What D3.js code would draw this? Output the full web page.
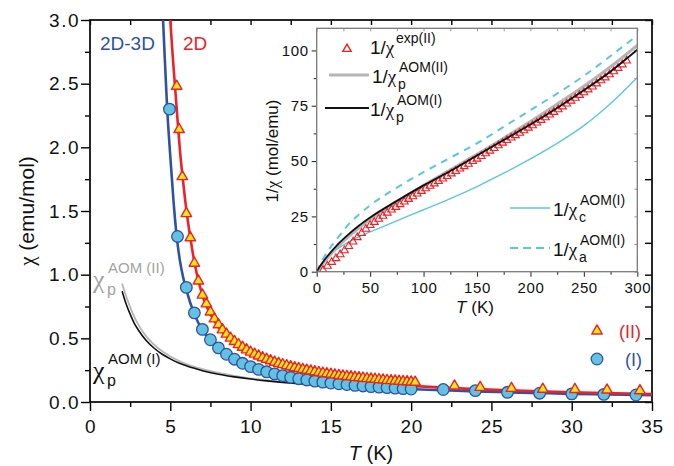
<!DOCTYPE html>
<html>
<head>
<meta charset="utf-8">
<script src="https://cdn.jsdelivr.net/npm/d3@7"></script>
<style>
  body { margin: 0; background: #fff; }
  svg { display: block; }
  text { font-family: "Liberation Sans", Arial, Helvetica, sans-serif; }
  .greek { font-family: "Liberation Serif", "DejaVu Serif", serif; }
</style>
</head>
<body>
<svg id="chart" width="674" height="466"></svg>
<script>
// ---------- main panel: susceptibility chi(T) ----------
// compound (I): measured points
const tempI = [4.95, 5.45, 6.0, 6.5, 7.0, 7.5, 8.0, 8.5, 9.0, 9.5, 10.0, 10.5, 11.0, 11.5, 12.0, 12.5,
  13.0, 13.5, 14.0, 14.5, 15.0, 15.5, 16.0, 16.5, 17.0, 17.5, 18.0, 18.5, 19.0, 19.5, 20.0,
  22, 24, 26, 28, 30, 32, 34];
const chiI = [2.30, 1.30, 0.90, 0.70, 0.57, 0.489, 0.425, 0.375, 0.336, 0.304, 0.278, 0.256, 0.237, 0.221, 0.207, 0.194,
  0.183, 0.173, 0.164, 0.156, 0.149, 0.143, 0.137, 0.131, 0.126, 0.121, 0.117, 0.113, 0.109, 0.105, 0.102,
  0.098, 0.089, 0.076, 0.069, 0.064, 0.060, 0.055];

// compound (II): measured points
const tempII = [5.4, 5.55, 5.75, 6.0, 6.25, 6.5, 6.75,
  7.0, 7.25, 7.5, 7.75, 8.0, 8.25, 8.5, 8.75, 9.0, 9.25,
  9.5, 9.75, 10.0, 10.25, 10.5, 10.75, 11.0, 11.25, 11.5, 11.75,
  12.0, 12.25, 12.5, 12.75, 13.0, 13.25, 13.5, 13.75, 14.0, 14.25,
  14.5, 14.75, 15.0, 15.25, 15.5, 15.75, 16.0, 16.25, 16.5, 16.75,
  17.0, 17.25, 17.5, 17.75, 18.0, 18.25, 18.5, 18.75, 19.0, 19.25,
  19.5, 19.75, 20.0, 20.25,
  22.7, 24.3, 26.25, 28.2, 30.2, 32.2, 34.25];
const chiII = [2.48, 2.14, 1.77, 1.48, 1.29, 1.09, 0.95,
  0.84, 0.771, 0.707, 0.653, 0.607, 0.567, 0.533, 0.502, 0.475, 0.451,
  0.43, 0.41, 0.392, 0.376, 0.362, 0.348, 0.336, 0.324, 0.313, 0.303,
  0.294, 0.286, 0.277, 0.270, 0.263, 0.256, 0.250, 0.244, 0.238, 0.232,
  0.227, 0.222, 0.218, 0.213, 0.209, 0.205, 0.201, 0.198, 0.194, 0.191,
  0.188, 0.184, 0.181, 0.179, 0.176, 0.173, 0.170, 0.168, 0.166, 0.163,
  0.161, 0.159, 0.157, 0.155,
  0.126, 0.115, 0.107, 0.100, 0.098, 0.094, 0.089];

// 2D-3D model curve (I)
const fit3DT = [4.55, 4.65, 4.8, 5.0, 5.2, 5.4, 5.6, 5.8, 6.0, 6.5, 7.0, 7.5, 8, 8.5, 9, 10, 11, 12, 13, 14, 15, 16, 18, 20, 22, 24, 26, 28, 30, 32, 35];
const fit3DChi = [3.0, 2.72, 2.32, 1.93, 1.58, 1.30, 1.11, 0.98, 0.88, 0.69, 0.565, 0.485, 0.425, 0.375, 0.337, 0.278, 0.237, 0.207, 0.184, 0.165, 0.150, 0.137, 0.117, 0.102, 0.092, 0.083, 0.076, 0.070, 0.064, 0.060, 0.054];

// 2D model curve (II)
const fit2DT = [5.0, 5.15, 5.3, 5.45, 5.6, 5.8, 6.0, 6.25, 6.5, 6.8, 7.1, 7.5, 8, 8.5, 9, 10, 11, 12, 13, 14, 15, 16, 17, 18, 19, 20, 22, 24, 26, 28, 30, 32, 35];
const fit2DChi = [3.0, 2.72, 2.47, 2.22, 1.98, 1.73, 1.51, 1.29, 1.10, 0.93, 0.80, 0.69, 0.59, 0.515, 0.46, 0.375, 0.315, 0.27, 0.237, 0.21, 0.188, 0.171, 0.157, 0.145, 0.135, 0.127, 0.113, 0.101, 0.092, 0.084, 0.077, 0.071, 0.063];

// AOM powder susceptibility
const aomT = [2.0, 2.25, 2.5, 2.75, 3.0, 3.5, 4.0, 4.5, 5.0, 5.5, 6.0, 7, 8, 9, 10, 11, 12, 13, 14];
const aomChiI = [0.87, 0.77, 0.69, 0.62, 0.567, 0.483, 0.422, 0.375, 0.339, 0.309, 0.284, 0.246, 0.218, 0.197, 0.180, 0.166, 0.154, 0.144, 0.136];
const aomChiII = [0.93, 0.83, 0.745, 0.67, 0.61, 0.515, 0.448, 0.398, 0.358, 0.326, 0.298, 0.258, 0.228, 0.205, 0.186, 0.171, 0.158, 0.148, 0.140];

const mainXTicks = [0, 5, 10, 15, 20, 25, 30, 35];
const mainXTickLabels = ["0", "5", "10", "15", "20", "25", "30", "35"];
const mainYTicks = [0, 0.5, 1.0, 1.5, 2.0, 2.5, 3.0];
const mainYTickLabels = ["0.0", "0.5", "1.0", "1.5", "2.0", "2.5", "3.0"];

// ---------- inset: inverse susceptibility 1/chi(T) ----------
const insetCurveT = [0, 5, 10, 20, 30, 40, 50, 75, 100, 125, 150, 175, 200, 225, 250, 275, 300];
const invChiPI  = [0, 3.8, 7.0, 12.5, 17.0, 21.0, 24.5, 32.0, 39.0, 45.5, 52.5, 59.5, 66.5, 74.0, 82.0, 90.5, 100.3];
const invChiPII = [0, 3.2, 6.2, 11.5, 16.0, 20.0, 23.7, 31.5, 39.0, 46.0, 53.0, 60.3, 67.8, 75.7, 83.8, 92.6, 102.3];
const invChiA   = [0, 5.0, 9.0, 15.5, 21.5, 26.0, 30.0, 38.0, 45.0, 51.5, 58.0, 65.5, 73.0, 80.5, 88.5, 97.5, 106.8];
const invChiC   = [0, 3.5, 6.5, 10.5, 13.5, 16.0, 18.0, 23.0, 28.0, 33.0, 38.5, 44.5, 51.0, 58.0, 66.0, 76.0, 87.8];

const invExpT = [6, 10, 14, 18, 22, 26, 30, 34, 38, 42, 46, 50, 54, 58, 62, 66, 70, 74, 78, 82,
  86, 90, 94, 98, 102, 106, 110, 114, 118, 122, 126, 130, 134, 138, 142, 146, 150, 154, 158, 162,
  166, 170, 174, 178, 182, 186, 190, 194, 198, 202, 206, 210, 214, 218, 222, 226, 230, 234, 238, 242,
  246, 250, 254, 258, 262, 266, 270, 274, 278, 282, 286, 290];
const invExpII = [0.7, 2.6, 4.3, 6.0, 7.8, 9.6, 11.5, 13.5, 15.5, 17.4, 19.3, 21.0, 22.4, 23.8, 25.2, 26.6, 28.0, 29.2, 30.4, 31.6,
  32.8, 34.0, 35.2, 36.4, 37.6, 38.7, 39.8, 40.9, 42.0, 43.1, 44.3, 45.4, 46.5, 47.6, 48.7, 49.9, 51.0, 52.2, 53.4, 54.6,
  55.8, 57.0, 58.2, 59.4, 60.5, 61.6, 62.7, 63.8, 65.0, 66.1, 67.3, 68.5, 69.7, 70.9, 72.1, 73.3, 74.6, 75.9, 77.2, 78.5,
  79.8, 81.0, 82.3, 83.6, 85.0, 86.4, 87.7, 89.1, 90.5, 92.0, 93.6, 95.3];

const insetXTicks = [0, 50, 100, 150, 200, 250, 300];
const insetXMinor = [25, 75, 125, 175, 225, 275];
const insetYTicks = [0, 25, 50, 75, 100];
const insetYMinor = [12.5, 37.5, 62.5, 87.5];

// ---------- colours ----------
const BLUE = "#2f52a3", RED = "#ec2227", CYAN_FILL = "#62c2df", YELLOW = "#fbe616";
const GREY = "#b5b5b5", CYAN = "#5cc7dc", FRAME_GREY = "#7a7a7a";

const svg = d3.select("#chart");
const zip = (a, b) => a.map((v, i) => [v, b[i]]);

// append a string to a text node, putting every χ in a Greek face
function addRich(sel, str) {
  str.split(/(χ)/).filter(s => s.length).forEach(part => {
    const t = sel.append("tspan").text(part);
    if (part === "χ") t.attr("class", "greek");
  });
  return sel;
}

// ================= main panel =================
const x = d3.scaleLinear().domain([0, 35]).range([90, 652]);
const y = d3.scaleLinear().domain([0, 3]).range([402, 20]);

svg.append("clipPath").attr("id", "mainClip")
  .append("rect").attr("x", 90).attr("y", 20).attr("width", 562).attr("height", 382);

function styleAxis(g, color, width) {
  g.select(".domain").remove();
  g.selectAll(".tick line").attr("stroke", color).attr("stroke-width", width);
}

const minorX = [2.5, 7.5, 12.5, 17.5, 22.5, 27.5, 32.5];
const minorY = [0.25, 0.75, 1.25, 1.75, 2.25, 2.75];

svg.append("g").attr("transform", "translate(0,402)")
  .call(d3.axisBottom(x).tickValues(mainXTicks).tickSize(9).tickPadding(9)
    .tickFormat((d, i) => mainXTickLabels[i]))
  .call(g => styleAxis(g, "#000", 1.4))
  .call(g => g.selectAll("text").attr("font-size", 19).attr("fill", "#111").style("letter-spacing", "0.6px"));
svg.append("g").attr("transform", "translate(0,402)")
  .call(d3.axisBottom(x).tickValues(minorX).tickSize(5).tickFormat(""))
  .call(g => styleAxis(g, "#000", 1.4));
svg.append("g").attr("transform", "translate(90,0)")
  .call(d3.axisLeft(y).tickValues(mainYTicks).tickSize(9).tickPadding(1)
    .tickFormat((d, i) => mainYTickLabels[i]))
  .call(g => styleAxis(g, "#000", 1.4))
  .call(g => g.selectAll("text").attr("font-size", 19).attr("fill", "#111").style("letter-spacing", "1.5px"));
svg.append("g").attr("transform", "translate(90,0)")
  .call(d3.axisLeft(y).tickValues(minorY).tickSize(5).tickFormat(""))
  .call(g => styleAxis(g, "#000", 1.4));
// inward ticks on top and right
svg.append("g").attr("transform", "translate(0,20)")
  .call(d3.axisTop(x).tickValues(mainXTicks.concat(minorX)).tickSize(-5).tickFormat(""))
  .call(g => styleAxis(g, "#000", 1.4));
svg.append("g").attr("transform", "translate(652,0)")
  .call(d3.axisRight(y).tickValues(mainYTicks.concat(minorY)).tickSize(-7).tickFormat(""))
  .call(g => styleAxis(g, "#000", 1.4));

// frame
svg.append("rect").attr("x", 90).attr("y", 20).attr("width", 562).attr("height", 382)
  .attr("fill", "none").attr("stroke", "#111").attr("stroke-width", 1.8);

// axis titles
addRich(svg.append("text").attr("transform", "translate(34,211) rotate(-90)")
  .attr("text-anchor", "middle").attr("font-size", 21).attr("fill", "#111"), "χ (emu/mol)");
svg.append("text").attr("x", 371).attr("y", 460).attr("text-anchor", "middle")
  .attr("font-size", 20).attr("fill", "#111")
  .call(t => { t.append("tspan").attr("font-style", "italic").text("T"); t.append("tspan").text(" (K)"); });

const plot = svg.append("g").attr("clip-path", "url(#mainClip)");
const line = d3.line().x(d => x(d[0])).y(d => y(d[1])).curve(d3.curveMonotoneX);

plot.append("path").datum(zip(aomT, aomChiII)).attr("d", line)
  .attr("fill", "none").attr("stroke", GREY).attr("stroke-width", 1.8);
plot.append("path").datum(zip(aomT, aomChiI)).attr("d", line)
  .attr("fill", "none").attr("stroke", "#111").attr("stroke-width", 1.6);

plot.append("path").datum(zip(fit3DT, fit3DChi)).attr("d", line)
  .attr("fill", "none").attr("stroke", BLUE).attr("stroke-width", 2.6);
plot.append("path").datum(zip(fit2DT, fit2DChi)).attr("d", line)
  .attr("fill", "none").attr("stroke", RED).attr("stroke-width", 2.6);

plot.selectAll("circle.ptI").data(zip(tempI, chiI)).join("circle")
  .attr("class", "ptI").attr("cx", d => x(d[0])).attr("cy", d => y(d[1])).attr("r", 5.8)
  .attr("fill", CYAN_FILL).attr("stroke", BLUE).attr("stroke-width", 1.3);

const triMain = d3.symbol().type(d3.symbolTriangle).size(48);
plot.selectAll("path.ptII").data(zip(tempII, chiII)).join("path")
  .attr("class", "ptII").attr("d", triMain)
  .attr("transform", d => `translate(${x(d[0])},${y(d[1])})`)
  .attr("fill", YELLOW).attr("stroke", RED).attr("stroke-width", 1.4).attr("stroke-linejoin", "round");

// curve labels
svg.append("text").attr("x", 100).attr("y", 50).attr("font-size", 19).attr("fill", BLUE).text("2D-3D");
svg.append("text").attr("x", 183).attr("y", 50).attr("font-size", 19).attr("fill", RED).text("2D");

function chiLabel(color, baseY, supText) {
  const g = svg.append("g").attr("fill", color);
  g.append("text").attr("class", "greek").attr("x", 93).attr("y", baseY).attr("font-size", 26).text("χ");
  g.append("text").attr("x", 107).attr("y", baseY + 7).attr("font-size", 16).text("p");
  g.append("text").attr("x", 108).attr("y", baseY - 15).attr("font-size", 15).text(supText);
}
chiLabel("#a3a3a3", 288, "AOM (II)");
chiLabel("#111", 379, "AOM (I)");

// legend
svg.append("path").attr("d", triMain).attr("transform", "translate(597,331)")
  .attr("fill", YELLOW).attr("stroke", RED).attr("stroke-width", 1.4).attr("stroke-linejoin", "round");
svg.append("text").attr("x", 619).attr("y", 338).attr("font-size", 18).attr("fill", RED).text("(II)");
svg.append("circle").attr("cx", 597).attr("cy", 359).attr("r", 5.8)
  .attr("fill", CYAN_FILL).attr("stroke", BLUE).attr("stroke-width", 1.3);
svg.append("text").attr("x", 625).attr("y", 366).attr("font-size", 18).attr("fill", BLUE).text("(I)");

// ================= inset =================
const ix = d3.scaleLinear().domain([0, 300]).range([316.7, 637.3]);
const iy = d3.scaleLinear().domain([0, 110]).range([271.7, 28.3]);

svg.append("rect").attr("x", 316.7).attr("y", 28.3).attr("width", 320.6).attr("height", 243.4)
  .attr("fill", "#fff");
svg.append("clipPath").attr("id", "insetClip")
  .append("rect").attr("x", 316.7).attr("y", 28.3).attr("width", 320.6).attr("height", 243.4);

svg.append("g").attr("transform", "translate(0,271.7)")
  .call(d3.axisBottom(ix).tickValues(insetXTicks).tickSize(5).tickPadding(6))
  .call(g => styleAxis(g, "#333", 1.1))
  .call(g => g.selectAll("text").attr("font-size", 15).attr("fill", "#111").style("letter-spacing", "0.6px"));
svg.append("g").attr("transform", "translate(0,271.7)")
  .call(d3.axisBottom(ix).tickValues(insetXMinor).tickSize(3).tickFormat(""))
  .call(g => styleAxis(g, "#333", 1.1));
svg.append("g").attr("transform", "translate(316.7,0)")
  .call(d3.axisLeft(iy).tickValues(insetYTicks).tickSize(5).tickPadding(3))
  .call(g => styleAxis(g, "#333", 1.1))
  .call(g => g.selectAll("text").attr("font-size", 15).attr("fill", "#111").style("letter-spacing", "0.6px"));
svg.append("g").attr("transform", "translate(316.7,0)")
  .call(d3.axisLeft(iy).tickValues(insetYMinor).tickSize(3).tickFormat(""))
  .call(g => styleAxis(g, "#333", 1.1));
svg.append("g").attr("transform", "translate(0,28.3)")
  .call(d3.axisTop(ix).tickValues(insetXTicks.concat(insetXMinor)).tickSize(-3).tickFormat(""))
  .call(g => styleAxis(g, "#999", 1));
svg.append("g").attr("transform", "translate(637.3,0)")
  .call(d3.axisRight(iy).tickValues(insetYTicks.concat(insetYMinor)).tickSize(-3).tickFormat(""))
  .call(g => styleAxis(g, "#999", 1));

const iline = d3.line().x(d => ix(d[0])).y(d => iy(d[1])).curve(d3.curveMonotoneX);
const inset = svg.append("g").attr("clip-path", "url(#insetClip)");

inset.append("path").datum(zip(insetCurveT, invChiC)).attr("d", iline)
  .attr("fill", "none").attr("stroke", CYAN).attr("stroke-width", 1.4);
inset.append("path").datum(zip(insetCurveT, invChiA)).attr("d", iline)
  .attr("fill", "none").attr("stroke", CYAN).attr("stroke-width", 2).attr("stroke-dasharray", "7,6");
inset.append("path").datum(zip(insetCurveT, invChiPII)).attr("d", iline)
  .attr("fill", "none").attr("stroke", GREY).attr("stroke-width", 3.2);

const triInset = d3.symbol().type(d3.symbolTriangle).size(26);
inset.selectAll("path.inv").data(zip(invExpT, invExpII)).join("path")
  .attr("class", "inv").attr("d", triInset)
  .attr("transform", d => `translate(${ix(d[0])},${iy(d[1])})`)
  .attr("fill", "none").attr("stroke", RED).attr("stroke-width", 1.1);

inset.append("path").datum(zip(insetCurveT, invChiPI)).attr("d", iline)
  .attr("fill", "none").attr("stroke", "#111").attr("stroke-width", 1.8);

svg.append("rect").attr("x", 316.7).attr("y", 28.3).attr("width", 320.6).attr("height", 243.4)
  .attr("fill", "none").attr("stroke", FRAME_GREY).attr("stroke-width", 1.3);

// inset axis titles
addRich(svg.append("text").attr("transform", "translate(278,151) rotate(-90)")
  .attr("text-anchor", "middle").attr("font-size", 17).attr("fill", "#111"), "1/χ (mol/emu)");
svg.append("text").attr("x", 475).attr("y", 313).attr("text-anchor", "middle")
  .attr("font-size", 17).attr("fill", "#111")
  .call(t => { t.append("tspan").attr("font-style", "italic").text("T"); t.append("tspan").text(" (K)"); });

// inset legend
function invLabel(xPos, baseY, sub, sup) {
  const t = svg.append("text").attr("x", xPos).attr("y", baseY).attr("font-size", 19).attr("fill", "#111");
  addRich(t, "1/χ");
  const w = 26;
  if (sub) t.append("tspan").attr("x", xPos + w).attr("dy", 6).attr("font-size", 14).text(sub);
  t.append("tspan").attr("x", xPos + w + (sub ? 1 : 0)).attr("dy", sub ? -17 : -11).attr("font-size", 14).text(sup);
}
svg.append("path").attr("d", d3.symbol().type(d3.symbolTriangle).size(30))
  .attr("transform", "translate(347,49)").attr("fill", "none").attr("stroke", RED).attr("stroke-width", 1.4);
invLabel(370, 54, null, "exp(II)");

svg.append("line").attr("x1", 329).attr("x2", 369).attr("y1", 75).attr("y2", 75)
  .attr("stroke", GREY).attr("stroke-width", 3.2);
invLabel(372, 83, "p", "AOM(II)");

svg.append("line").attr("x1", 325).attr("x2", 369).attr("y1", 108).attr("y2", 108)
  .attr("stroke", "#111").attr("stroke-width", 2.2);
invLabel(370, 116, "p", "AOM(I)");

svg.append("line").attr("x1", 510).attr("x2", 550).attr("y1", 208).attr("y2", 208)
  .attr("stroke", CYAN).attr("stroke-width", 1.4);
invLabel(553, 216, "c", "AOM(I)");

svg.append("line").attr("x1", 510).attr("x2", 550).attr("y1", 248).attr("y2", 248)
  .attr("stroke", CYAN).attr("stroke-width", 2).attr("stroke-dasharray", "8,5");
invLabel(553, 256, "a", "AOM(I)");
</script>
</body>
</html>
